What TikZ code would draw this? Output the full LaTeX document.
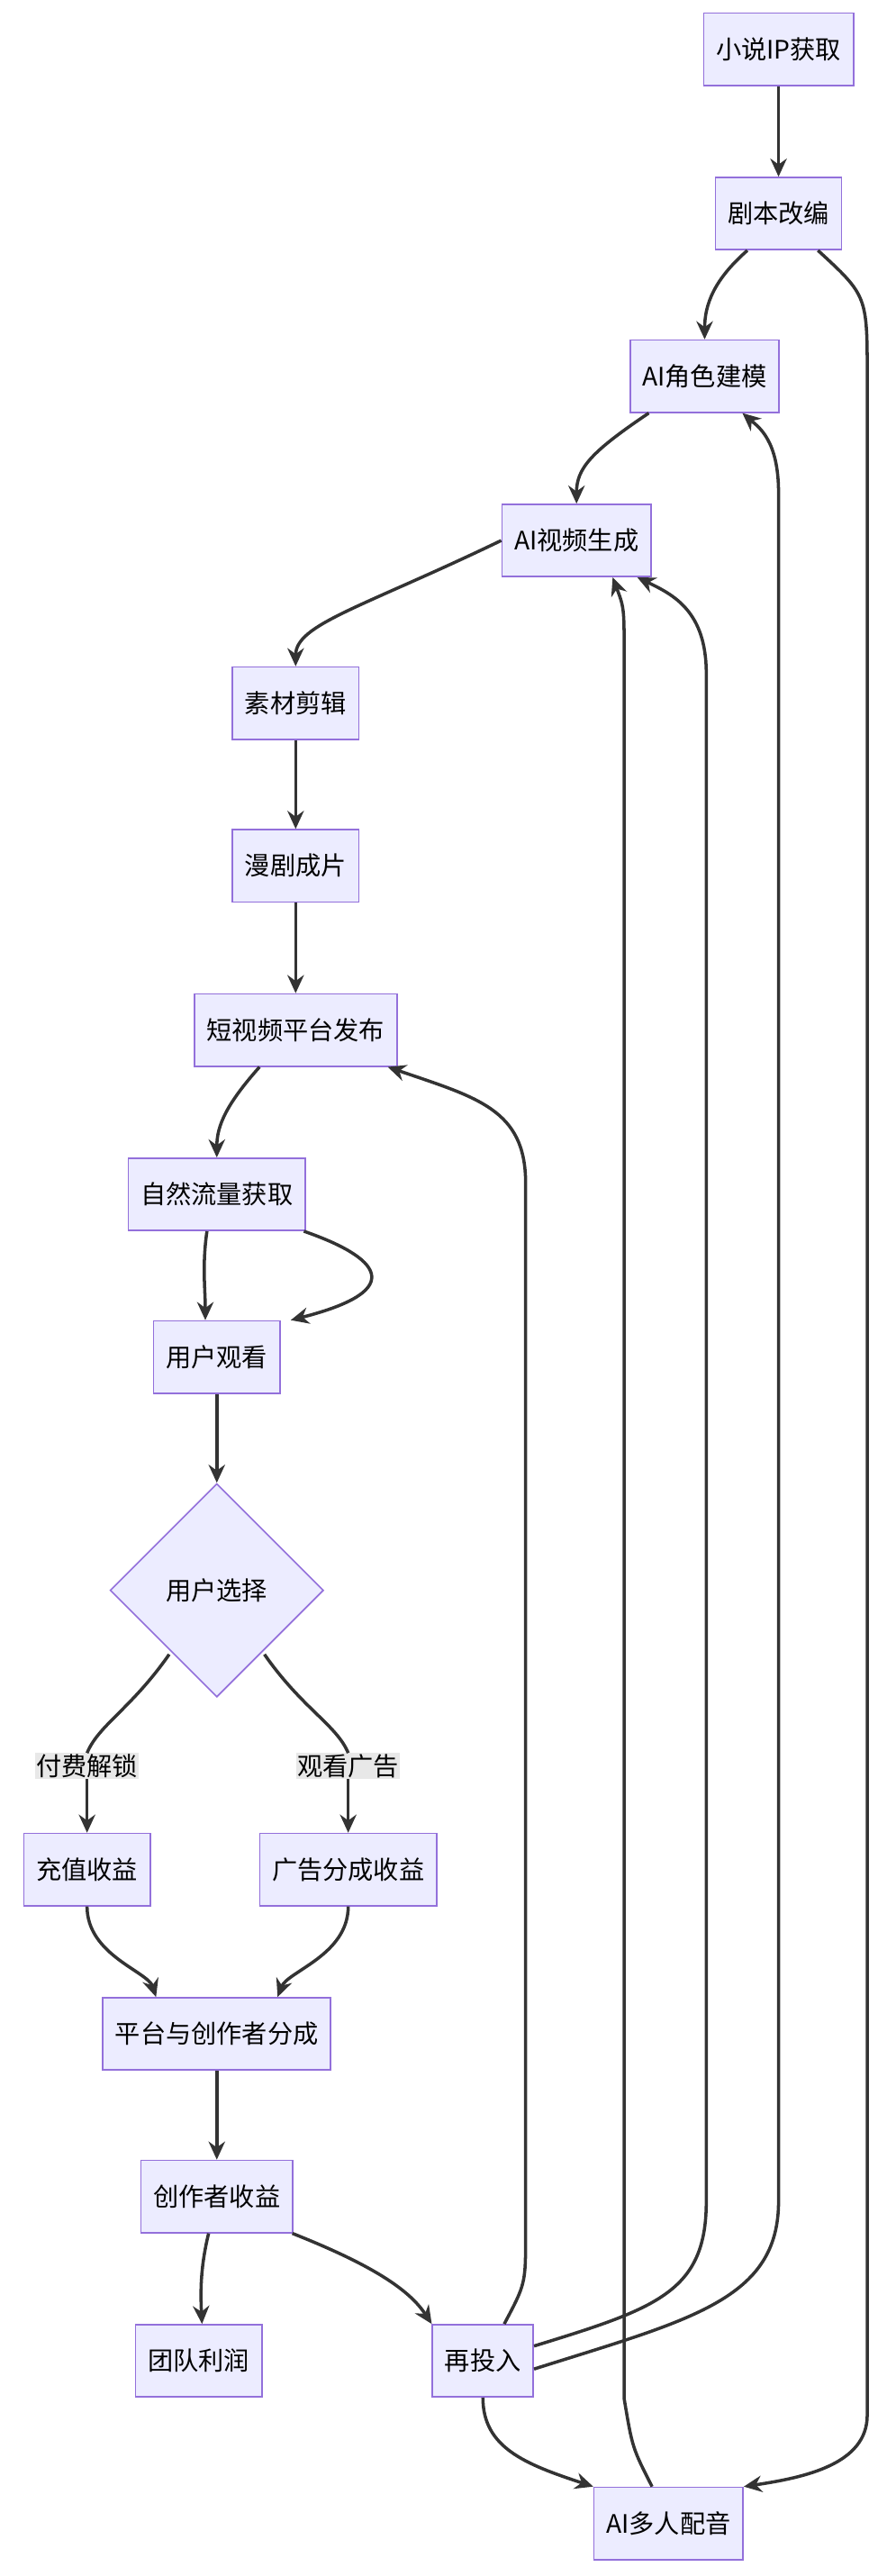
\documentclass[tikz,border=0pt]{standalone}
\usepackage{fontspec}
\setmainfont{Noto Sans CJK SC}
\usetikzlibrary{shapes.geometric,arrows.meta}
\definecolor{boxfill}{HTML}{ECECFF}
\definecolor{boxline}{HTML}{9370DB}
\definecolor{edgecol}{HTML}{333333}
\tikzset{box/.style={rectangle,draw=boxline,fill=boxfill,line width=2.5pt,minimum height=4.4cm,inner xsep=0.75cm,font=\fontsize{44}{50}\selectfont},
  dec/.style={diamond,draw=boxline,fill=boxfill,line width=2.5pt,minimum width=13cm,minimum height=13cm,inner sep=0pt,font=\fontsize{44}{50}\selectfont},
  lbl/.style={fill=black!9,inner sep=2pt,font=\fontsize{44}{50}\selectfont},
  edge/.style={draw=edgecol,line width=5.5pt,-{Stealth[length=1.1cm,width=1cm]}},
  link/.style={draw=edgecol,line width=5.5pt}}
\begin{document}
\begin{tikzpicture}[x=0.1cm,y=-0.1cm]
    \useasboundingbox (0,0) rectangle (540,1568);
    \node[box] (ip) at (474,30) {小说IP获取};
    \node[box] (script) at (474,130) {剧本改编};
    \node[box] (role) at (429,229) {AI角色建模};
    \node[box] (video) at (351,329) {AI视频生成};
    \node[box] (edit) at (180,428) {素材剪辑};
    \node[box] (film) at (180,527) {漫剧成片};
    \node[box] (pub) at (180,627) {短视频平台发布};
    \node[box] (flow) at (132,727) {自然流量获取};
    \node[box] (watch) at (132,826) {用户观看};
    \node[dec] (choice) at (132,968) {用户选择};
    \node[lbl] (pay) at (53,1075) {付费解锁};
    \node[lbl] (ad) at (212,1075) {观看广告};
    \node[box] (charge) at (53,1138) {充值收益};
    \node[box] (adrev) at (212,1138) {广告分成收益};
    \node[box] (split) at (132,1238) {平台与创作者分成};
    \node[box] (creator) at (132,1337) {创作者收益};
    \node[box] (team) at (121,1437) {团队利润};
    \node[box] (reinv) at (294,1437) {再投入};
    \node[box] (dub) at (407,1536) {AI多人配音};

    \draw[edge] (ip) -- (script);
    \draw[edge] ([xshift=-1.9cm]script.south) .. controls (435,170) and (429,185) .. (role.north);
    \draw[edge] ([xshift=2.4cm]script.south) .. controls (528,180) .. (528,230) -- (528,1470) .. controls (528,1500) and (490,1508) .. (dub.north east);
    \draw[edge] ([xshift=-3.4cm]role.south) .. controls (360,275) and (351,285) .. (video.north);
    \draw[edge] (video.west) .. controls (220,370) and (180,380) .. (edit.north);
    \draw[edge] (edit) -- (film);
    \draw[edge] (film) -- (pub);
    \draw[edge] ([xshift=-2.2cm]pub.south) .. controls (138,672) and (132,685) .. (flow.north);
    \draw[edge] ([xshift=-0.6cm]flow.south) .. controls (123,770) and (125,785) .. ([xshift=-0.7cm]watch.north);
    \draw[edge] ([xshift=5.3cm]flow.south) .. controls (230,765) and (250,785) .. ([xshift=4.5cm]watch.north);
    \draw[edge] (watch) -- (choice);
    \draw[link] (choice.south west) ++(6.5,0) coordinate (c1);
    \draw[link] ([xshift=-2.9cm,yshift=-3.9cm]choice.center) .. controls (80,1040) and (60,1050) .. (pay.north);
    \draw[link] ([xshift=2.9cm,yshift=-3.9cm]choice.center) .. controls (184,1040) and (205,1050) .. (ad.north);
    \draw[edge] (pay.south) -- (charge.north);
    \draw[edge] (ad.south) -- (adrev.north);
    \draw[edge] (charge.south) .. controls (53,1190) and (90,1200) .. ([xshift=-3.7cm]split.north);
    \draw[edge] (adrev.south) .. controls (212,1190) and (175,1200) .. ([xshift=3.7cm]split.north);
    \draw[edge] (split) -- (creator);
    \draw[edge] ([xshift=-0.5cm]creator.south) .. controls (122,1380) and (122,1395) .. ([xshift=0.2cm]team.north);
    \draw[edge] ([xshift=4.6cm]creator.south) .. controls (230,1380) and (250,1395) .. (reinv.north west);
    \draw[edge] ([xshift=1.3cm]reinv.north) .. controls (320,1390) .. (320,1360) -- (320,720) .. controls (320,675) and (290,668) .. ([xshift=-0.6cm]pub.south east);
    \draw[edge] ([yshift=0.9cm]reinv.east) .. controls (400,1405) and (430,1395) .. (430,1340) -- (430,410) .. controls (430,372) and (410,362) .. ([xshift=3.7cm]video.south);
    \draw[edge] ([yshift=-0.5cm]reinv.east) .. controls (420,1412) and (474,1400) .. (474,1340) -- (474,300) .. controls (474,268) and (462,260) .. ([xshift=2.3cm]role.south);
    \draw[edge] (reinv.south) .. controls (294,1490) and (320,1500) .. (dub.north west);
    \draw[edge] ([xshift=-1cm]dub.north) .. controls (385,1490) .. (380,1460) -- (380,400) .. controls (380,370) .. ([xshift=2.2cm]video.south);
\end{tikzpicture}
\end{document}
